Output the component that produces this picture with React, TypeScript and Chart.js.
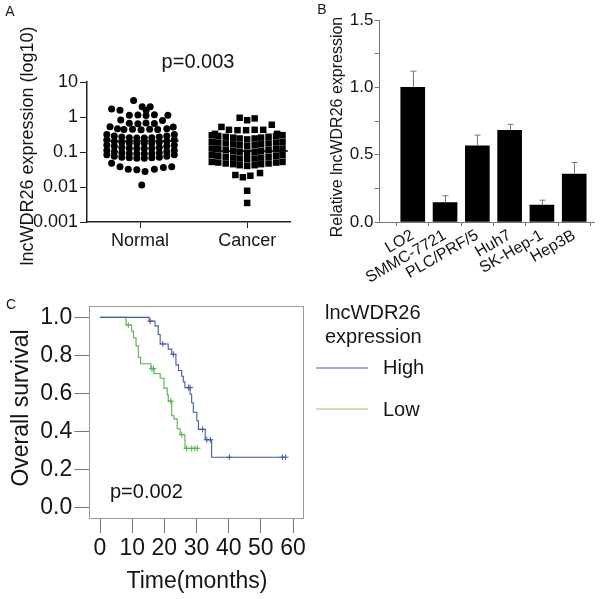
import React, { useEffect, useRef } from 'react';
import { Chart, registerables } from 'chart.js';
Chart.register(...registerables);

const FONT = "'Liberation Sans', Arial, sans-serif";

// ---------- Panel A data ----------
const groupLabels = ['Normal', 'Cancer'];
const logTicks = [0.001, 0.01, 0.1, 1, 10];
const normalValues = [
  2.95, 1.7, 1.55, 1.95, 1.95, 1.55,
  1.12, 1.15, 1.1, 1.16, 1.12,
  0.82, 0.8,
  0.66, 0.64, 0.67, 0.65,
  0.53, 0.52,
  0.46, 0.44, 0.45, 0.43, 0.45, 0.44, 0.46,
  0.316, 0.288, 0.269, 0.257, 0.251, 0.251, 0.257, 0.269, 0.288, 0.316,
  0.224, 0.204, 0.191, 0.182, 0.178, 0.178, 0.182, 0.191, 0.204, 0.224,
  0.158, 0.145, 0.135, 0.129, 0.126, 0.126, 0.129, 0.135, 0.145, 0.158,
  0.112, 0.102, 0.095, 0.091, 0.089, 0.089, 0.091, 0.095, 0.102, 0.112,
  0.083, 0.076, 0.071, 0.068, 0.066, 0.066, 0.068, 0.071, 0.076, 0.083,
  0.048, 0.038, 0.032, 0.031, 0.0275, 0.032, 0.036, 0.038,
  0.0114,
];
const normalJitter = [
  -0.06, -0.265, -0.187, 0.02, 0.095, 0.057,
  -0.1, -0.02, 0.056, 0.134, 0.26,
  -0.18, 0.21,
  -0.1, -0.02, 0.056, 0.134,
  -0.28, 0.31,
  -0.21, -0.15, -0.07, 0.01, 0.09, 0.165, 0.25,
  -0.31, -0.24, -0.17, -0.1, -0.03, 0.04, 0.11, 0.18, 0.25, 0.32,
  -0.31, -0.24, -0.17, -0.1, -0.03, 0.04, 0.11, 0.18, 0.25, 0.32,
  -0.31, -0.24, -0.17, -0.1, -0.03, 0.04, 0.11, 0.18, 0.25, 0.32,
  -0.31, -0.24, -0.17, -0.1, -0.03, 0.04, 0.11, 0.18, 0.25, 0.32,
  -0.31, -0.24, -0.17, -0.1, -0.03, 0.04, 0.11, 0.18, 0.25, 0.32,
  -0.265, -0.187, -0.11, -0.03, 0.047, 0.134, 0.218, 0.296,
  0.016,
];
const cancerValues = [
  0.95, 0.81, 0.91,
  0.52, 0.6,
  0.43, 0.42, 0.42, 0.43, 0.43,
  0.33, 0.33,
  0.302, 0.288, 0.272, 0.257, 0.243, 0.229, 0.243, 0.257, 0.272, 0.288, 0.302,
  0.195, 0.186, 0.176, 0.166, 0.157, 0.148, 0.157, 0.166, 0.176, 0.186, 0.195,
  0.126, 0.12, 0.114, 0.107, 0.101, 0.095, 0.101, 0.107, 0.114, 0.12, 0.126,
  0.081, 0.078, 0.073, 0.069, 0.065, 0.062, 0.065, 0.069, 0.073, 0.078, 0.081,
  0.052, 0.05, 0.047, 0.045, 0.042, 0.04, 0.042, 0.045, 0.047, 0.05, 0.052,
  0.022, 0.019, 0.021, 0.025,
  0.0078, 0.0035,
];
const cancerJitter = [
  -0.07, 0.0, 0.07,
  -0.24, 0.23,
  -0.17, -0.09, -0.01, 0.07, 0.15,
  -0.3, 0.28,
  -0.33, -0.27, -0.2, -0.13, -0.07, 0, 0.07, 0.13, 0.2, 0.27, 0.33,
  -0.33, -0.27, -0.2, -0.13, -0.07, 0, 0.07, 0.13, 0.2, 0.27, 0.33,
  -0.33, -0.27, -0.2, -0.13, -0.07, 0, 0.07, 0.13, 0.2, 0.27, 0.33,
  -0.33, -0.27, -0.2, -0.13, -0.07, 0, 0.07, 0.13, 0.2, 0.27, 0.33,
  -0.33, -0.27, -0.2, -0.13, -0.07, 0, 0.07, 0.13, 0.2, 0.27, 0.33,
  -0.11, -0.04, 0.03, 0.12,
  0, 0,
];
const groupMeans = [0.205, 0.107];

// ---------- Panel B data ----------
const cellLines = ['LO2', 'SMMC-7721', 'PLC/PRF/5', 'Huh7', 'SK-Hep-1', 'Hep3B'];
const relExpression = [1.0, 0.145, 0.565, 0.68, 0.125, 0.355];
const relError = [0.12, 0.05, 0.08, 0.045, 0.037, 0.087];
const barYTicks = [0, 0.25, 0.5, 0.75, 1.0, 1.25, 1.5];
const barXTicks = [-0.5, 0, 0.5, 1, 1.5, 2, 2.5, 3, 3.5, 4, 4.5, 5, 5.5];

// ---------- Panel C data ----------
const highTimes = [0, 15.3, 17.1, 18.1, 18.7, 21.2, 22.3, 23.6, 24.4, 25.4, 25.9, 26.4, 28.0, 28.5, 29.0, 30.1, 30.6, 32.7, 34.7, 57.7];
const highSurvival = [1, 0.98, 0.955, 0.91, 0.86, 0.833, 0.805, 0.75, 0.72, 0.69, 0.66, 0.63, 0.595, 0.55, 0.5, 0.455, 0.41, 0.355, 0.263, 0.263];
const highCensorTimes = [15.6, 19.5, 22.8, 27.5, 28.0, 31.9, 33.2, 34.3, 40.2, 56.7, 57.7];
const highCensorSurv = [0.98, 0.86, 0.805, 0.63, 0.63, 0.41, 0.355, 0.355, 0.263, 0.263, 0.263];
const lowTimes = [0, 8.1, 9.85, 10.4, 11.2, 11.9, 12.6, 15.8, 16.8, 18.7, 19.9, 20.9, 21.2, 22.3, 23.0, 24.0, 24.9, 26.4, 30.3];
const lowSurvival = [1, 0.96, 0.927, 0.893, 0.85, 0.79, 0.756, 0.73, 0.704, 0.679, 0.627, 0.593, 0.559, 0.482, 0.465, 0.413, 0.382, 0.31, 0.31];
const lowCensorTimes = [8.8, 16.1, 16.6, 22.0, 25.4, 26.9, 28.5, 29.5, 30.3];
const lowCensorSurv = [0.96, 0.73, 0.73, 0.559, 0.382, 0.31, 0.31, 0.31, 0.31];
const monthTicks = [0, 10, 20, 30, 40, 50, 60];
const survivalTicks = [0, 0.2, 0.4, 0.6, 0.8, 1.0];
const legendTitle = ['lncWDR26', 'expression'];
const legendLabels = ['High', 'Low'];

const HIGH_COLOR = '#4658a6';
const LOW_COLOR = '#55b04f';
const TEXT = '#151515';

type TextItem = { text: string; x: number; y: number; size: number; align?: CanvasTextAlign; rotate?: boolean };

function textPlugin(items: TextItem[], extra?: (chart: any) => void) {
  return {
    id: 'texts',
    afterDraw(chart: any) {
      const ctx = chart.ctx;
      items.forEach((it) => {
        ctx.save();
        ctx.font = `${it.size}px ${FONT}`;
        ctx.fillStyle = TEXT;
        ctx.textAlign = it.align || 'center';
        ctx.textBaseline = 'middle';
        ctx.translate(it.x, it.y);
        if (it.rotate) ctx.rotate(-Math.PI / 2);
        ctx.fillText(it.text, 0, 0);
        ctx.restore();
      });
      if (extra) extra(chart);
    },
  };
}

export default function App() {
  const refA = useRef<HTMLCanvasElement>(null);
  const refB = useRef<HTMLCanvasElement>(null);
  const refC = useRef<HTMLCanvasElement>(null);

  useEffect(() => {
    Chart.defaults.font.family = FONT;
    Chart.defaults.color = TEXT;

    // ---------- Panel A ----------
    const chartA = new Chart(refA.current as HTMLCanvasElement, {
      type: 'scatter',
      data: {
        datasets: [
          {
            data: [
              { x: -0.34, y: groupMeans[0] },
              { x: 0.36, y: groupMeans[0] },
            ],
            showLine: true,
            borderColor: '#000',
            borderWidth: 1.5,
            pointRadius: 0,
          } as any,
          {
            data: [
              { x: 1 - 0.33, y: groupMeans[1] },
              { x: 1 + 0.38, y: groupMeans[1] },
            ],
            showLine: true,
            borderColor: '#000',
            borderWidth: 1.5,
            pointRadius: 0,
          } as any,
          {
            data: normalValues.map((v, i) => ({ x: normalJitter[i], y: v })),
            pointStyle: 'circle',
            pointRadius: 3.5,
            backgroundColor: '#000',
            borderWidth: 0,
          },
          {
            data: cancerValues.map((v, i) => ({ x: 1 + cancerJitter[i], y: v })),
            pointStyle: 'rect',
            pointRadius: 4.6,
            backgroundColor: '#000',
            borderWidth: 0,
          },
        ],
      },
      options: {
        animation: false,
        responsive: false,
        devicePixelRatio: 1,
        layout: { padding: { top: 82, right: 10, left: 0, bottom: 0 } },
        plugins: { legend: { display: false }, tooltip: { enabled: false } },
        scales: {
          x: {
            type: 'linear',
            min: -0.495,
            max: 1.4,
            afterBuildTicks: (s: any) => {
              s.ticks = [0, 1].map((v) => ({ value: v }));
            },
            afterFit: (s: any) => {
              s.height = 48;
            },
            ticks: {
              autoSkip: false,
              font: { size: 18 },
              padding: 2,
              maxRotation: 0,
              callback: (v: any) => groupLabels[Math.round(Number(v))],
            },
            grid: { drawOnChartArea: false, drawTicks: true, tickLength: 6, color: '#222' },
            border: { color: '#222', width: 1.5 },
          },
          y: {
            type: 'logarithmic',
            min: 0.001,
            max: 10,
            afterBuildTicks: (s: any) => {
              s.ticks = logTicks.map((v) => ({ value: v }));
            },
            afterFit: (s: any) => {
              s.width = 87;
            },
            ticks: {
              autoSkip: false,
              font: { size: 18 },
              padding: 2,
              callback: (v: any) => String(v),
            },
            grid: { drawOnChartArea: false, drawTicks: true, tickLength: 7, color: '#222' },
            border: { color: '#222', width: 1.5 },
          },
        },
      } as any,
      plugins: [
        textPlugin([
          { text: 'A', x: 10, y: 12, size: 14 },
          { text: 'p=0.003', x: 198, y: 62, size: 20 },
          { text: 'lncWDR26 expression (log10)', x: 28, y: 146, size: 18, rotate: true },
        ]),
      ],
    });

    // ---------- Panel B ----------
    const errorBars = {
      id: 'errorBars',
      afterDatasetsDraw(chart: any) {
        const { ctx, scales } = chart;
        ctx.save();
        ctx.strokeStyle = '#777';
        ctx.lineWidth = 1;
        relExpression.forEach((v, i) => {
          const px = Math.round(scales.x.getPixelForValue(i)) + 0.5;
          const y0 = scales.y.getPixelForValue(v);
          const y1 = scales.y.getPixelForValue(v + relError[i]);
          ctx.beginPath();
          ctx.moveTo(px, y0);
          ctx.lineTo(px, y1);
          ctx.moveTo(px - 3, y1);
          ctx.lineTo(px + 3, y1);
          ctx.stroke();
        });
        ctx.restore();
      },
    };
    const chartB = new Chart(refB.current as HTMLCanvasElement, {
      type: 'bar',
      data: {
        datasets: [
          {
            data: relExpression.map((v, i) => ({ x: i, y: v })),
            backgroundColor: '#000',
            borderWidth: 0,
            barThickness: 24,
          } as any,
        ],
      },
      options: {
        animation: false,
        responsive: false,
        devicePixelRatio: 1,
        layout: { padding: { top: 20, right: 2, left: 0, bottom: 0 } },
        plugins: { legend: { display: false }, tooltip: { enabled: false } },
        scales: {
          x: {
            type: 'linear',
            offset: false,
            min: -1.03,
            max: 5.62,
            afterBuildTicks: (s: any) => {
              s.ticks = barXTicks.map((v) => ({ value: v }));
            },
            afterFit: (s: any) => {
              s.height = 77;
            },
            ticks: {
              autoSkip: false,
              minRotation: 30,
              maxRotation: 30,
              font: { size: 16 },
              padding: 0,
              callback: (v: any) => (Number.isInteger(Number(v)) ? cellLines[Number(v)] : ''),
            },
            grid: {
              offset: false,
              drawOnChartArea: false,
              drawTicks: true,
              tickLength: 4,
              tickColor: (c: any) => (c.tick && Number.isInteger(c.tick.value) ? 'rgba(0,0,0,0)' : '#777'),
            },
            border: { color: '#777', width: 1 },
          },
          y: {
            type: 'linear',
            min: 0,
            max: 1.5,
            afterBuildTicks: (s: any) => {
              s.ticks = barYTicks.map((v) => ({ value: v }));
            },
            afterFit: (s: any) => {
              s.width = 79.5;
            },
            ticks: {
              autoSkip: false,
              font: { size: 17 },
              padding: 1,
              callback: (v: any) => (Math.abs((Number(v) * 2) % 1) < 1e-9 ? Number(v).toFixed(1) : ''),
            },
            grid: { drawOnChartArea: false, drawTicks: true, tickLength: 5, color: '#777' },
            border: { color: '#777', width: 1 },
          },
        },
      } as any,
      plugins: [
        errorBars,
        textPlugin([
          { text: 'B', x: 22, y: 10, size: 14 },
          { text: 'Relative lncWDR26 expression', x: 38, y: 127, size: 16, rotate: true },
        ]),
      ],
    });

    // ---------- Panel C ----------
    const boxAndLegend = (chart: any) => {
      const { ctx, chartArea } = chart;
      ctx.save();
      ctx.strokeStyle = '#999';
      ctx.lineWidth = 1;
      ctx.strokeRect(
        Math.round(chartArea.left) + 0.5,
        Math.round(chartArea.top) + 0.5,
        Math.round(chartArea.right - chartArea.left),
        Math.round(chartArea.bottom - chartArea.top)
      );
      ctx.lineWidth = 1.2;
      ctx.strokeStyle = HIGH_COLOR;
      ctx.beginPath();
      ctx.moveTo(316, 78);
      ctx.lineTo(368, 78);
      ctx.stroke();
      ctx.strokeStyle = '#9cc870';
      ctx.beginPath();
      ctx.moveTo(316, 119);
      ctx.lineTo(368, 119);
      ctx.stroke();
      ctx.restore();
    };
    const chartC = new Chart(refC.current as HTMLCanvasElement, {
      type: 'line',
      data: {
        datasets: [
          {
            data: highTimes.map((t, i) => ({ x: t, y: highSurvival[i] })),
            borderColor: HIGH_COLOR,
            borderWidth: 1.1,
            stepped: 'before',
            pointRadius: 0,
            fill: false,
          },
          {
            data: lowTimes.map((t, i) => ({ x: t, y: lowSurvival[i] })),
            borderColor: LOW_COLOR,
            borderWidth: 1.1,
            stepped: 'before',
            pointRadius: 0,
            fill: false,
          },
          {
            data: highCensorTimes.map((t, i) => ({ x: t, y: highCensorSurv[i] })),
            showLine: false,
            pointStyle: 'cross',
            pointRadius: 3,
            borderColor: HIGH_COLOR,
            pointBorderWidth: 1,
          },
          {
            data: lowCensorTimes.map((t, i) => ({ x: t, y: lowCensorSurv[i] })),
            showLine: false,
            pointStyle: 'cross',
            pointRadius: 3,
            borderColor: LOW_COLOR,
            pointBorderWidth: 1,
          },
        ] as any,
      },
      options: {
        animation: false,
        responsive: false,
        devicePixelRatio: 1,
        layout: { padding: { top: 10.7, right: 296.7, left: 0, bottom: 0 } },
        plugins: { legend: { display: false }, tooltip: { enabled: false } },
        scales: {
          x: {
            type: 'linear',
            min: -3.33,
            max: 63.2,
            afterBuildTicks: (s: any) => {
              s.ticks = monthTicks.map((v) => ({ value: v }));
            },
            afterFit: (s: any) => {
              s.height = 81;
            },
            ticks: { autoSkip: false, maxRotation: 0, font: { size: 23 }, padding: 2 },
            grid: { drawOnChartArea: false, drawTicks: true, tickLength: 15, color: '#777' },
            border: { display: false },
          },
          y: {
            type: 'linear',
            min: -0.057,
            max: 1.061,
            afterBuildTicks: (s: any) => {
              s.ticks = survivalTicks.map((v) => ({ value: v }));
            },
            afterFit: (s: any) => {
              s.width = 89.3;
            },
            ticks: { autoSkip: false, font: { size: 23 }, padding: 2, callback: (v: any) => Number(v).toFixed(1) },
            grid: { drawOnChartArea: false, drawTicks: true, tickLength: 15, color: '#777' },
            border: { display: false },
          },
        },
      } as any,
      plugins: [
        textPlugin(
          [
            { text: 'C', x: 11, y: 15, size: 14 },
            { text: 'Overall survival', x: 22, y: 118, size: 23, rotate: true },
            { text: 'Time(months)', x: 197, y: 292, size: 23 },
            { text: 'p=0.002', x: 110, y: 202, size: 20, align: 'left' },
            { text: legendTitle[0], x: 325, y: 23, size: 20, align: 'left' },
            { text: legendTitle[1], x: 325, y: 47, size: 20, align: 'left' },
            { text: legendLabels[0], x: 383, y: 78, size: 20, align: 'left' },
            { text: legendLabels[1], x: 383, y: 120, size: 20, align: 'left' },
          ],
          boxAndLegend
        ),
      ],
    });

    return () => {
      chartA.destroy();
      chartB.destroy();
      chartC.destroy();
    };
  }, []);

  return (
    <div style={{ position: 'fixed', left: 0, top: 0, width: 600, height: 599, background: '#fff', overflow: 'hidden' }}>
      <canvas ref={refA} width={300} height={270} style={{ position: 'absolute', left: 0, top: 0, width: 300, height: 270 }} />
      <canvas ref={refB} width={300} height={299} style={{ position: 'absolute', left: 300, top: 0, width: 300, height: 299 }} />
      <canvas ref={refC} width={600} height={309} style={{ position: 'absolute', left: 0, top: 290, width: 600, height: 309 }} />
    </div>
  );
}
